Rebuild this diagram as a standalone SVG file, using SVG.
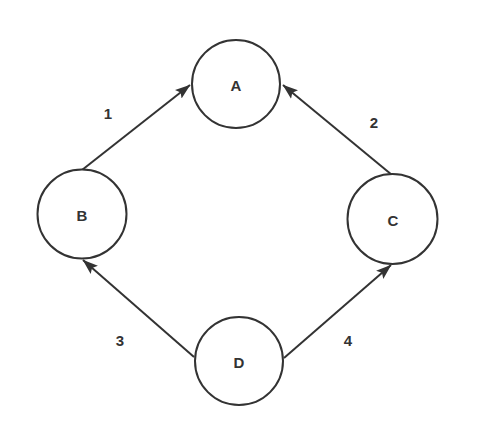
<svg xmlns="http://www.w3.org/2000/svg" width="482" height="439" viewBox="0 0 482 439">
<style>
.n{fill:#fff;stroke:#333;stroke-width:2}
.t{font-family:"Liberation Sans",Arial,sans-serif;font-size:15px;font-weight:bold;fill:#333;text-anchor:middle;dominant-baseline:central}
.e{stroke:#333;stroke-width:2;fill:none;marker-end:url(#ah)}
</style>
<defs>
<marker id="ah" markerWidth="16" markerHeight="12" refX="15" refY="6" orient="auto" markerUnits="userSpaceOnUse" viewBox="0 0 16 12">
<path d="M0,0.5 L15.5,6 L0,11.5 L3,6 Z" fill="#333"/>
</marker>
</defs>
<rect width="482" height="439" fill="#fff"/>
<g id="connectors">
<line class="e" x1="82" y1="170" x2="190" y2="85"/>
<line class="e" x1="392" y1="175" x2="283" y2="85"/>
<line class="e" x1="194" y1="357" x2="83" y2="260"/>
<line class="e" x1="284" y1="358" x2="391" y2="265"/>
<text class="t" x="108" y="113">1</text>
<text class="t" x="374" y="122">2</text>
<text class="t" x="120" y="340">3</text>
<text class="t" x="348" y="340">4</text>
</g>
<g id="A"><circle class="n" cx="236" cy="84" r="44"/><text class="t" x="236" y="85">A</text></g>
<g id="B"><circle class="n" cx="82" cy="214" r="44.5"/><text class="t" x="82" y="215">B</text></g>
<g id="C"><circle class="n" cx="392.5" cy="219" r="45"/><text class="t" x="393" y="220">C</text></g>
<g id="D"><circle class="n" cx="239" cy="361" r="44"/><text class="t" x="239" y="362">D</text></g>
</svg>
